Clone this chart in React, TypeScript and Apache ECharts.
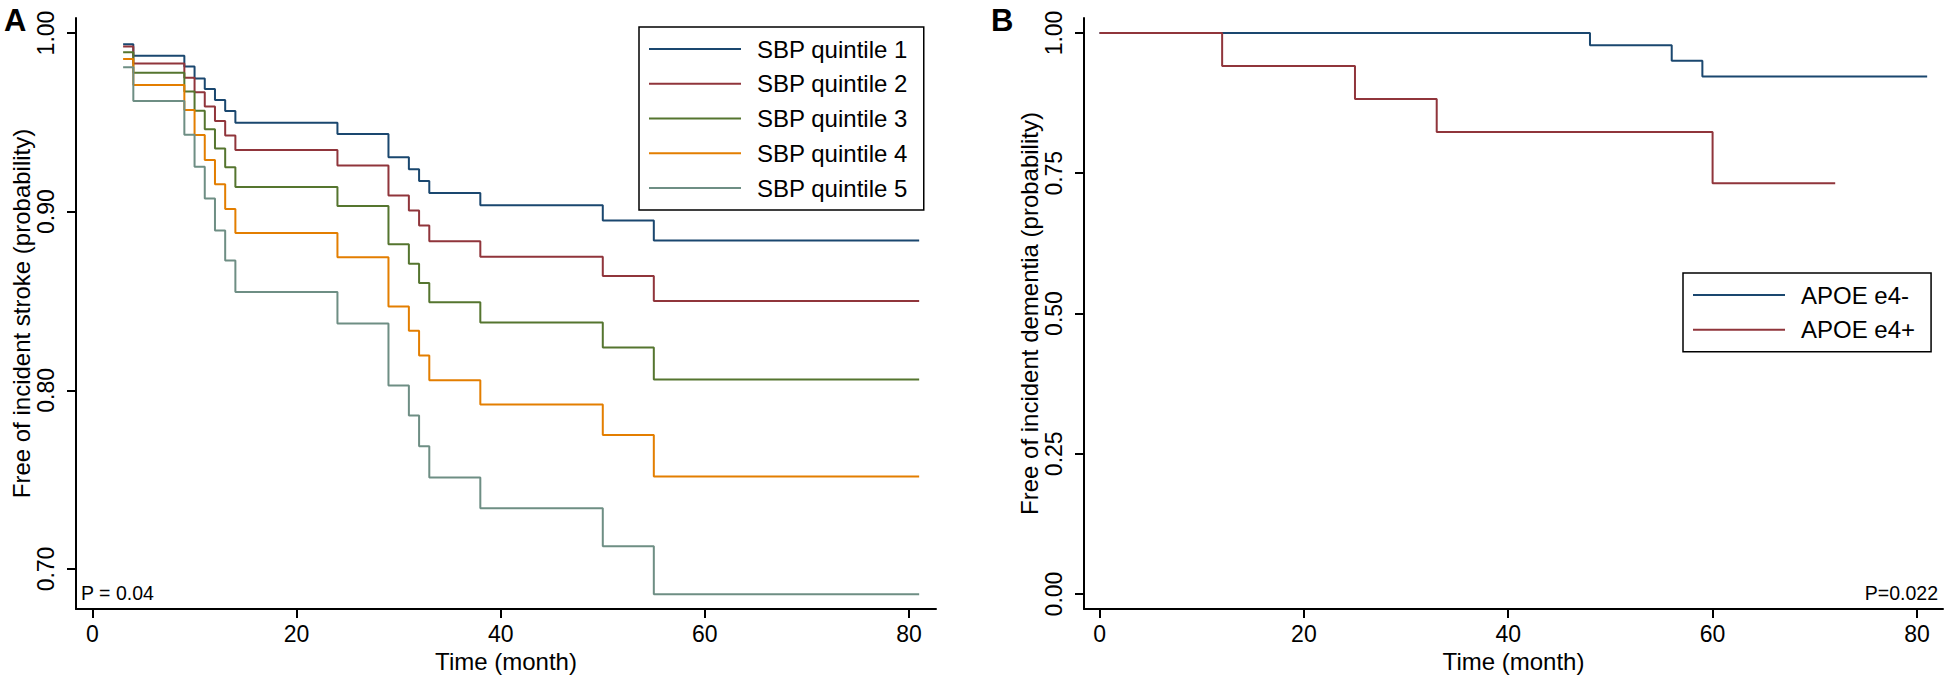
import React, { useEffect, useRef } from "react";
import * as echarts from "echarts";

const FONT = '"Liberation Sans", Arial, Helvetica, sans-serif';

// Panel A: stroke-free survival by SBP quintile
const sbpNames = ["SBP quintile 1", "SBP quintile 2", "SBP quintile 3", "SBP quintile 4", "SBP quintile 5"];
const sbpColors = ["#1a476f", "#90353b", "#55752f", "#e37e00", "#6e8e84"];
const sbpTimes = [3, 4, 9, 10, 11, 12, 13, 14, 24, 29, 31, 32, 33, 38, 50, 55, 81];
const sbpQ1 = [0.9937, 0.9873, 0.9812, 0.9746, 0.9687, 0.9625, 0.9564, 0.9498, 0.9435, 0.9304, 0.9237, 0.9172, 0.9105, 0.9036, 0.895, 0.8838, 0.8838];
const sbpQ2 = [0.9924, 0.983, 0.975, 0.9668, 0.9588, 0.9508, 0.9426, 0.9345, 0.9258, 0.909, 0.9006, 0.8922, 0.8834, 0.8747, 0.864, 0.85, 0.85];
const sbpQ3 = [0.9892, 0.9778, 0.9672, 0.9565, 0.9461, 0.9353, 0.9248, 0.9138, 0.9032, 0.8817, 0.8709, 0.8601, 0.8493, 0.8379, 0.824, 0.806, 0.806];
const sbpQ4 = [0.9855, 0.9709, 0.9569, 0.9429, 0.9289, 0.9153, 0.9015, 0.8881, 0.8745, 0.8469, 0.8334, 0.8195, 0.8056, 0.792, 0.775, 0.7517, 0.7517];
const sbpQ5 = [0.9808, 0.962, 0.9431, 0.9252, 0.9073, 0.8894, 0.8726, 0.855, 0.8374, 0.8027, 0.7859, 0.7687, 0.7512, 0.734, 0.7127, 0.6859, 0.6859];
const sbpValues = [sbpQ1, sbpQ2, sbpQ3, sbpQ4, sbpQ5];

// Panel B: dementia-free survival by APOE e4
const apoeNames = ["APOE e4-", "APOE e4+"];
const apoeColors = ["#1a476f", "#90353b"];
const apoeNegTime = [0, 48, 56, 59, 81];
const apoeNegSurv = [1, 0.978, 0.9505, 0.9226, 0.9226];
const apoePosTime = [0, 12, 25, 33, 60, 72];
const apoePosSurv = [1, 0.9412, 0.8824, 0.8235, 0.732, 0.732];

// Axis ticks
const xTicks = [0, 20, 40, 60, 80];
const yTicksA = [0.7, 0.8, 0.9, 1.0];
const yTicksB = [0, 0.25, 0.5, 0.75, 1.0];

const zip = (t: number[], v: number[]) => t.map((x, i) => [x, v[i]]);

const axisCommon = {
  axisLine: { show: true, onZero: false, lineStyle: { color: "#000", width: 2 } },
  axisTick: { show: true, length: 9, lineStyle: { color: "#000", width: 2 } },
  splitLine: { show: false },
  nameTextStyle: { fontFamily: FONT, fontSize: 24, color: "#000" },
};

function xAxis(gridIndex: number, min: number, max: number) {
  return {
    type: "value",
    gridIndex,
    min,
    max,
    name: "Time (month)",
    nameLocation: "middle",
    nameGap: 36,
    ...axisCommon,
    axisTick: { ...axisCommon.axisTick, customValues: xTicks },
    axisLabel: {
      customValues: xTicks,
      margin: 13,
      fontFamily: FONT,
      fontSize: 23,
      color: "#000",
      formatter: (v: number) => String(v),
    },
  };
}

function yAxis(gridIndex: number, min: number, max: number, ticks: number[], name: string) {
  return {
    type: "value",
    gridIndex,
    min,
    max,
    name,
    nameLocation: "middle",
    nameGap: 42,
    ...axisCommon,
    axisTick: { ...axisCommon.axisTick, customValues: ticks },
    axisLabel: {
      customValues: ticks,
      rotate: 90,
      margin: 19,
      fontFamily: FONT,
      fontSize: 23,
      color: "#000",
      formatter: (v: number) => v.toFixed(2),
    },
  };
}

function legend(names: string[], left: number, top: number) {
  return {
    data: names,
    orient: "vertical",
    left,
    top,
    icon: "rect",
    itemWidth: 92,
    itemHeight: 2,
    itemGap: 10.75,
    padding: [10, 16, 10, 10],
    borderColor: "#000",
    borderWidth: 1.5,
    backgroundColor: "#fff",
    selectedMode: false,
    textStyle: {
      fontFamily: FONT,
      fontSize: 24,
      lineHeight: 24,
      color: "#000",
      padding: [0, 0, 0, 11],
    },
  };
}

export default function App() {
  const ref = useRef<HTMLDivElement>(null);
  useEffect(() => {
    if (!ref.current) return;
    const chart = echarts.init(ref.current, undefined, { renderer: "svg" });
    const seriesA = sbpNames.map((name, i) => ({
      name,
      type: "line",
      xAxisIndex: 0,
      yAxisIndex: 0,
      step: "end",
      symbol: "none",
      lineStyle: { width: 2, color: sbpColors[i] },
      itemStyle: { color: sbpColors[i] },
      data: zip(sbpTimes, sbpValues[i]),
    }));
    const apoeData = [zip(apoeNegTime, apoeNegSurv), zip(apoePosTime, apoePosSurv)];
    const seriesB = apoeNames.map((name, i) => ({
      name,
      type: "line",
      xAxisIndex: 1,
      yAxisIndex: 1,
      step: "end",
      symbol: "none",
      lineStyle: { width: 2, color: apoeColors[i] },
      itemStyle: { color: apoeColors[i] },
      data: apoeData[i],
    }));
    chart.setOption({
      animation: false,
      backgroundColor: "#fff",
      grid: [
        { left: 76, top: 18, width: 860, height: 591, containLabel: false, outerBoundsMode: "none" },
        { left: 1084, top: 18, width: 859, height: 591, containLabel: false, outerBoundsMode: "none" },
      ],
      xAxis: [xAxis(0, -1.617, 82.65), xAxis(1, -1.52, 82.55)],
      yAxis: [
        yAxis(0, 0.6776, 1.0084, yTicksA, "Free of incident stroke (probability)"),
        yAxis(1, -0.0267, 1.0267, yTicksB, "Free of incident dementia (probability)"),
      ],
      legend: [legend(sbpNames, 639, 27), legend(apoeNames, 1683, 273)],
      graphic: [
        { type: "text", left: 4, top: 5, style: { text: "A", font: `bold 31px ${FONT}`, fill: "#000" } },
        { type: "text", left: 991, top: 5, style: { text: "B", font: `bold 31px ${FONT}`, fill: "#000" } },
        { type: "text", left: 81, top: 583, style: { text: "P = 0.04", font: `19.5px ${FONT}`, fill: "#000" } },
        { type: "text", right: 17, top: 583, style: { text: "P=0.022", font: `19.5px ${FONT}`, fill: "#000" } },
      ],
      series: [...seriesA, ...seriesB],
    });
    return () => chart.dispose();
  }, []);
  return (
    <div
      ref={ref}
      style={{ position: "absolute", left: 0, top: 0, width: 1955, height: 681, background: "#fff" }}
    />
  );
}
